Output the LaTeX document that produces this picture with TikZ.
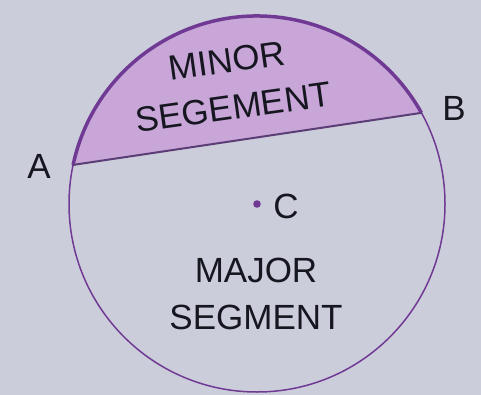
\documentclass[tikz,border=0pt]{standalone}
\usepackage{fontspec}
\setmainfont{Liberation Sans}
\usepackage{tikz}
\usetikzlibrary{positioning,calc}
\definecolor{paper}{RGB}{204,205,219}
\definecolor{segfill}{RGB}{200,166,216}
\definecolor{rim}{RGB}{112,58,148}
\definecolor{chordcol}{RGB}{92,62,118}
\definecolor{inkcol}{RGB}{22,22,32}

\begin{document}
\begin{tikzpicture}[
  x=1pt, y=-1pt,
  rimline/.style={draw=rim, line width=1.5pt},
  arcline/.style={draw=rim, line width=3.5pt},
  chordline/.style={draw=chordcol, line width=2pt},
  lettering/.style={font=\fontsize{35}{47}\selectfont, text=inkcol, inner sep=0pt, align=center},
]

% Paper
\fill[paper] (0,0) rectangle (481,395);
\useasboundingbox (0,0) rectangle (481,395);

% Centre and chord ends
\coordinate (C) at (257,204);
\coordinate (A) at ($(C)+(-168:188)$);
\coordinate (B) at ($(C)+(-29:188)$);

% Minor segment
\fill[segfill] (A) arc[start angle=-168, end angle=-29, radius=188] -- cycle;

% Circle, arc and chord
\draw[rimline] (C) circle[radius=188];
\draw[arcline] (A) arc[start angle=-168, end angle=-29, radius=188];
\draw[chordline] (A) -- (B);

% Centre point
\fill[rim] (C) circle[radius=3.8];

% Labels
\node[lettering] (labA) at (39,166) {A};
\node[lettering] (labB) at (454,108) {B};
\node[lettering] (labC) at (286,206) {C};
\node[lettering, rotate=8] (minor) at (230,84) {MINOR\\SEGEMENT};
\node[lettering] (major) at (256,294) {MAJOR\\SEGMENT};

\end{tikzpicture}
\end{document}
